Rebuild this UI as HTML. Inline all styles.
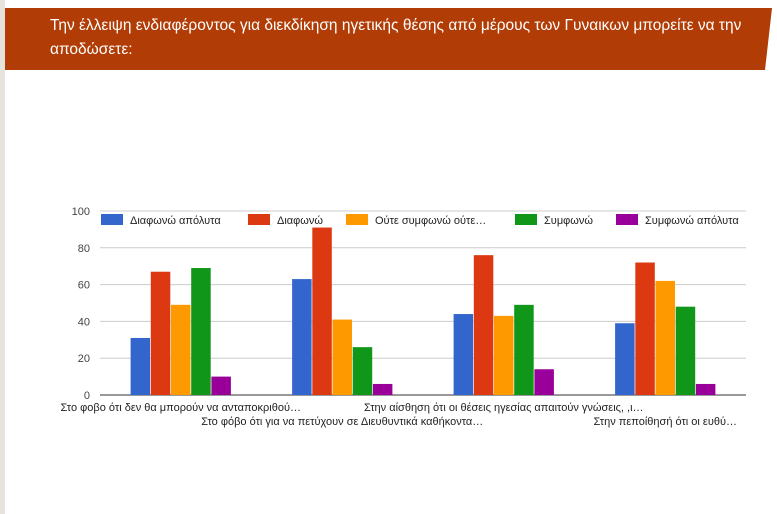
<!DOCTYPE html>
<html><head><meta charset="utf-8"><style>
body{margin:0;width:777px;height:514px;background:#fff;position:relative;overflow:hidden;font-family:"Liberation Sans",Arial,sans-serif}
#strip{position:absolute;left:0;top:0;width:5px;height:514px;background:#e6e3dc}
#banner{position:absolute;left:5px;top:0;width:772px;height:514px}
#title{position:absolute;left:50px;top:14px;width:710px;color:#fff;font-size:15.5px;line-height:24px}
svg text{font-family:"Liberation Sans",Arial,sans-serif}
</style></head><body>
<div id="strip"></div>
<svg id="banner" width="772" height="80"><polygon points="0,8 767,8 760,70 0,70" fill="#b13c05"/></svg>
<div id="title">Την έλλειψη ενδιαφέροντος για διεκδίκηση ηγετικής θέσης από μέρους των Γυναικων μπορείτε να την αποδώσετε:</div>
<svg id="chart" width="777" height="514" style="position:absolute;left:0;top:0"></svg>
<script>
const categories=["Στο φοβο ότι δεν θα μπορούν να ανταποκριθού…","Στο φόβο ότι για να πετύχουν σε Διευθυντικά καθήκοντα…","Στην αίσθηση ότι οι θέσεις ηγεσίας απαιτούν γνώσεις, ,ι…","Στην πεποίθησή ότι οι ευθύ…"];
const seriesNames=["Διαφωνώ απόλυτα","Διαφωνώ","Ούτε συμφωνώ ούτε…","Συμφωνώ","Συμφωνώ απόλυτα"];
const diafonoApolyta=[31,63,44,39];
const diafono=[67,91,76,72];
const oute=[49,41,43,62];
const symfono=[69,26,49,48];
const symfonoApolyta=[10,6,14,6];
const yTicks=[0,20,40,60,80,100];
const series=[diafonoApolyta,diafono,oute,symfono,symfonoApolyta];
const colors=["#3366cc","#dc3912","#ff9900","#109618","#990099"];
const NS="http://www.w3.org/2000/svg",svg=document.getElementById('chart');
const x0=100,x1=746,y0=395,y1=211,yMax=100;
const yScale=v=>y0-(v/yMax)*(y0-y1);
const groupW=(x1-x0)/categories.length;
const xCenter=i=>x0+groupW*(i+0.5);
function mk(t,a){const e=document.createElementNS(NS,t);for(const k in a)e.setAttribute(k,a[k]);svg.appendChild(e);return e;}
yTicks.forEach(t=>{
 const g=mk('line',{x1:x0,x2:x1,y1:yScale(t),y2:yScale(t),stroke:t===0?'#333':'#ccc','stroke-width':1});
 
 
 const l=mk('text',{x:x0-10,y:yScale(t)+4,'text-anchor':'end','font-size':11,fill:'#444'});
 l.textContent=t;
 
 
});
const bw=19.5,gap=0.7;
categories.forEach((c,i)=>{
 const start=xCenter(i)-(5*bw+4*gap)/2;
 series.forEach((s,j)=>{
  const r=mk('rect',{x:start+j*(bw+gap),y:yScale(s[i]),width:bw,height:y0-yScale(s[i]),fill:colors[j]});
  
  
 });
 const t=mk('text',{x:xCenter(i),y:i%2===0?411:425,'text-anchor':'middle','font-size':11,fill:'#222'});
 t.textContent=c;
 
 
});
const legX=[101,248,346,515,616];
seriesNames.forEach((n,j)=>{
 const r=mk('rect',{x:legX[j],y:214,width:22,height:11,fill:colors[j]});
 
 
 const t=mk('text',{x:legX[j]+29,y:224,'font-size':11,fill:'#222'});
 t.textContent=n;
 
 
});
</script>
</body></html>
